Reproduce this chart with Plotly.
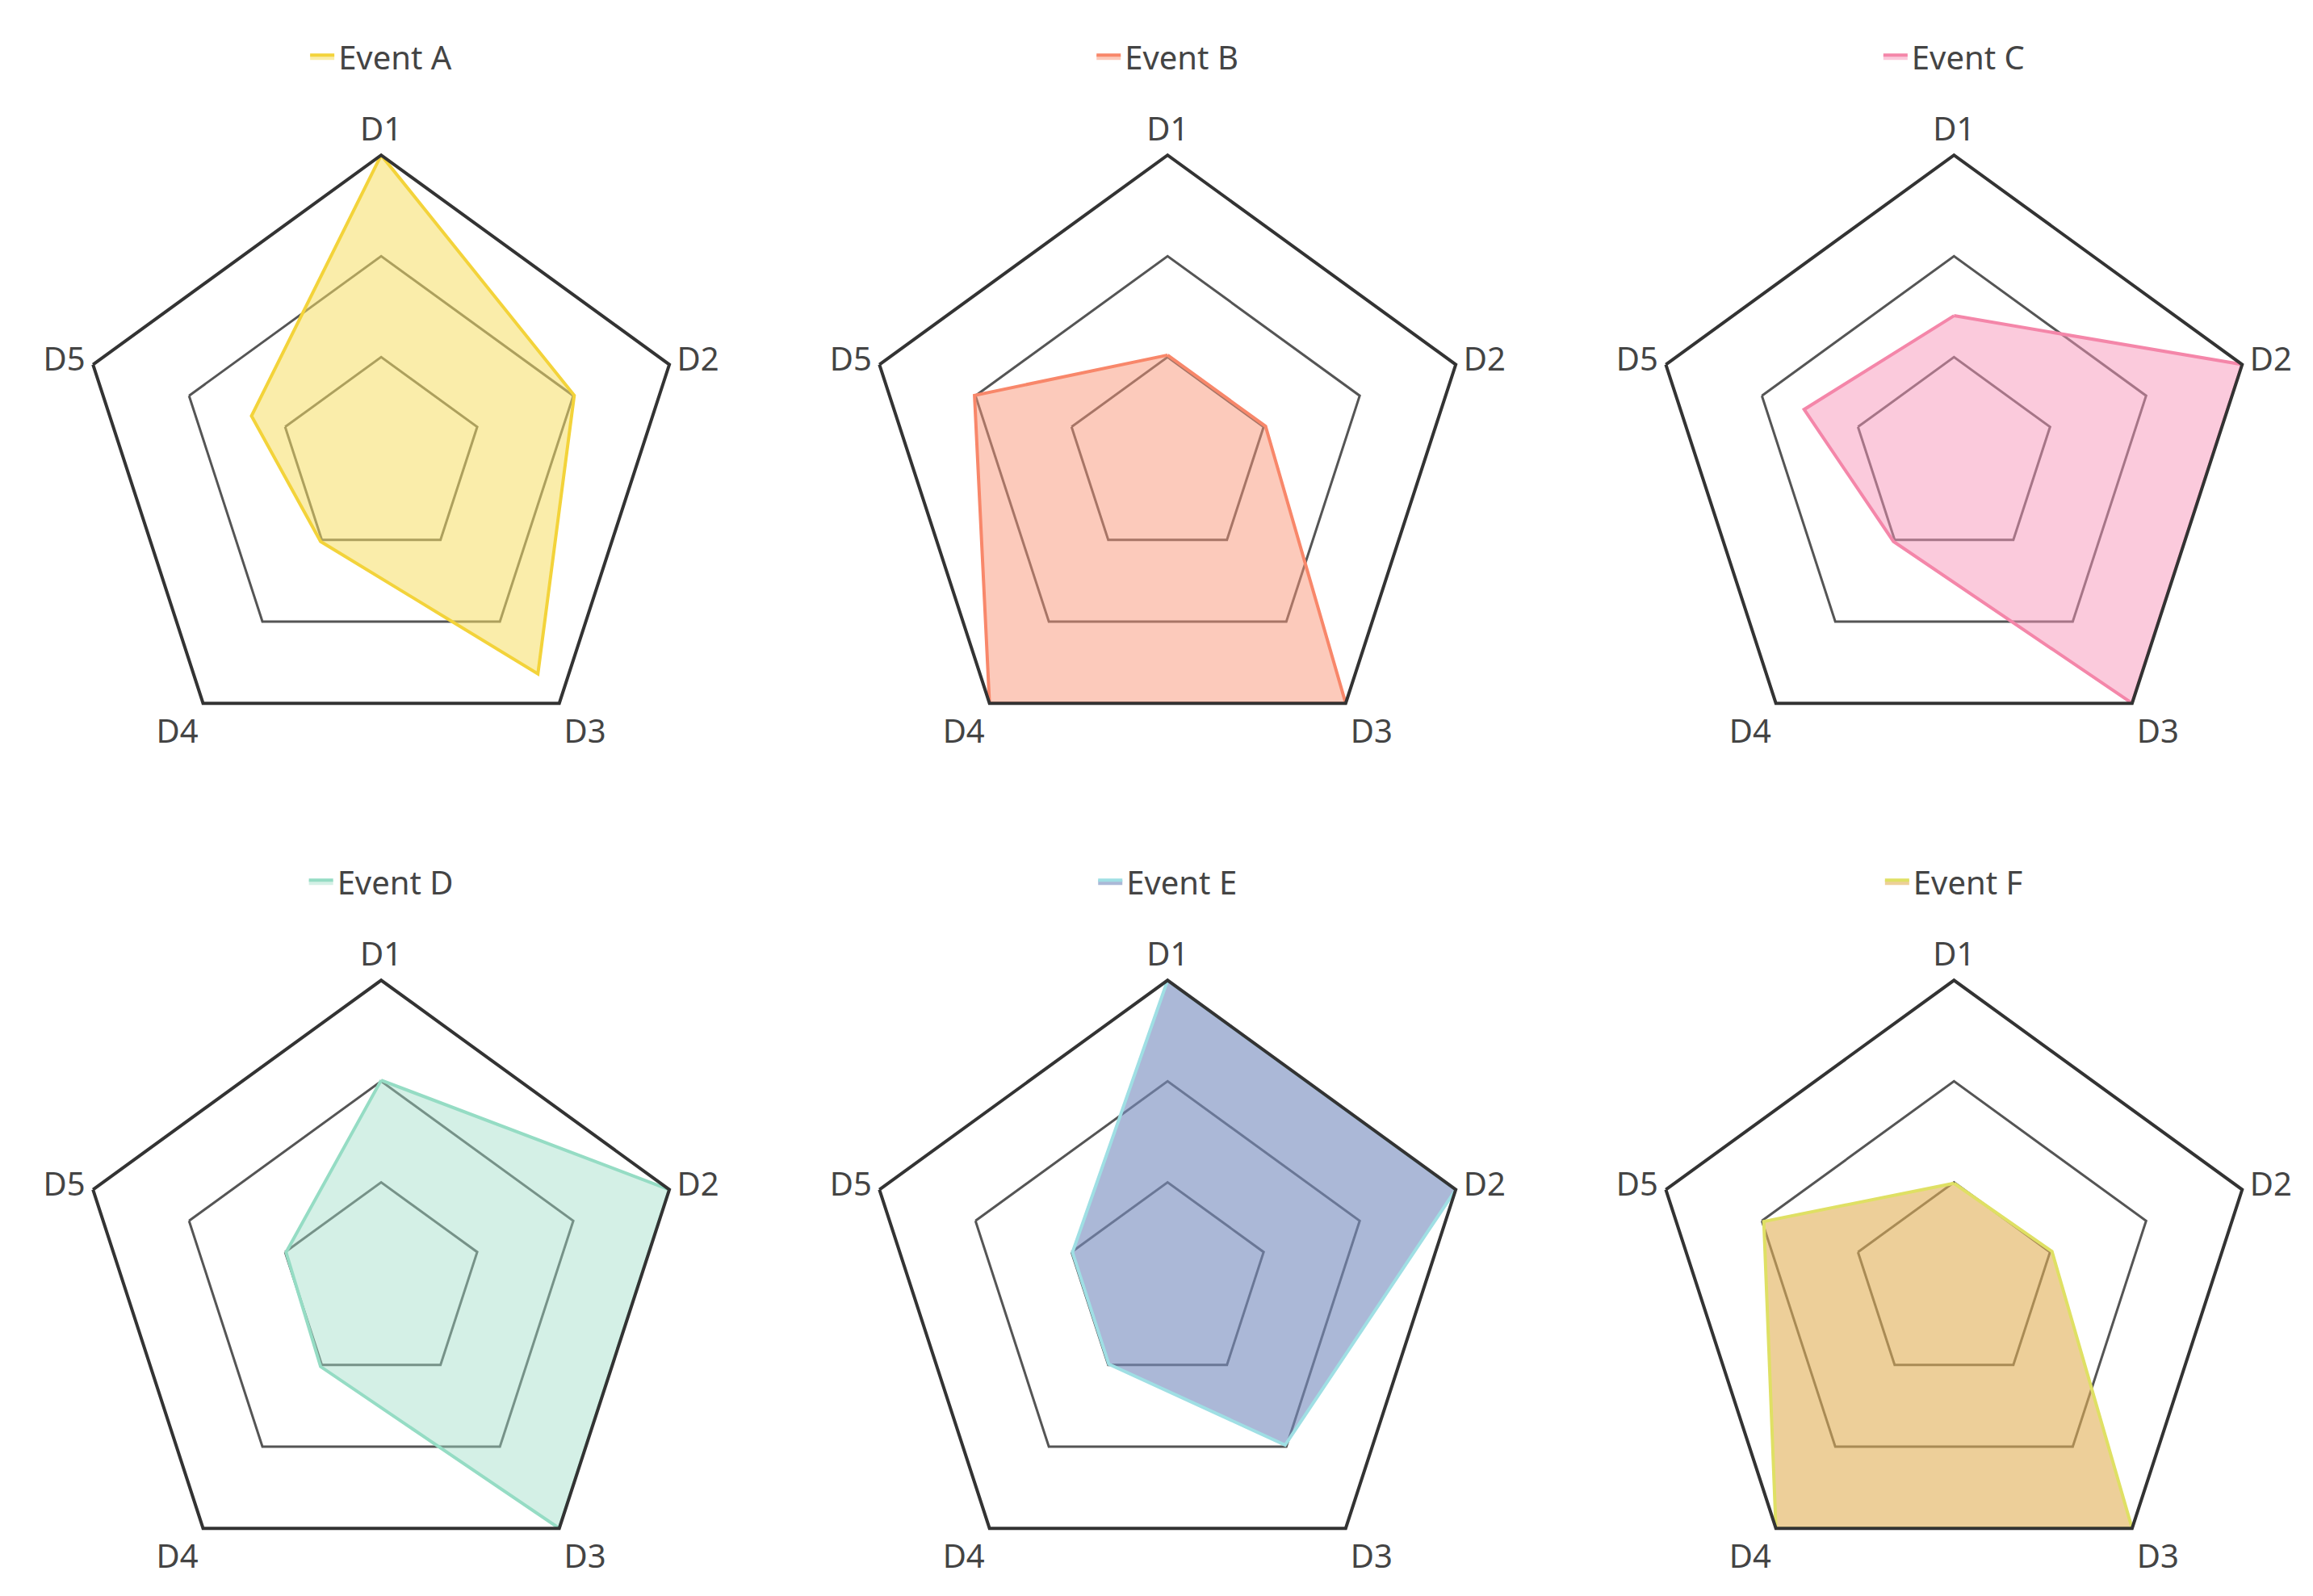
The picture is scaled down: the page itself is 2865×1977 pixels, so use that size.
import plotly.graph_objects as go

dims = ["D1", "D2", "D3", "D4", "D5"]
events = ["Event A", "Event B", "Event C", "Event D", "Event E", "Event F"]
vals_a = [100, 67, 88, 34, 45]
vals_b = [34, 34, 100, 100, 67]
vals_c = [47, 100, 100, 34, 52]
vals_d = [67, 100, 100, 34, 33]
vals_e = [100, 100, 66, 33, 33]
vals_f = [33, 34, 100, 100, 66]
values = [vals_a, vals_b, vals_c, vals_d, vals_e, vals_f]
line_colors = ["#f3d33a", "#f8876a", "#f486a9", "#95dcc4", "#9fdfe4", "#dfe064"]
fill_colors = ["rgba(246,222,100,0.55)", "rgba(250,150,120,0.5)", "rgba(248,150,185,0.5)",
               "rgba(160,222,200,0.45)", "rgba(120,140,190,0.62)", "rgba(225,175,85,0.6)"]

cx = [0.162, 0.502, 0.842]
cy = [0.717, 0.20]
hw, hh = 0.131, 0.19
leg_y = [0.985, 0.468]

fig = go.Figure()
for i, (name, v) in enumerate(zip(events, values)):
    r, c = divmod(i, 3)
    pid = "polar" if i == 0 else f"polar{i+1}"
    lid = "legend" if i == 0 else f"legend{i+1}"
    fig.add_trace(go.Scatterpolar(
        r=v + [v[0]], theta=dims + [dims[0]], fill="toself", mode="lines",
        line=dict(color=line_colors[i], width=4), fillcolor=fill_colors[i],
        name=name, subplot=pid, legend=lid, showlegend=True))
    fig.layout[pid] = dict(
        domain=dict(x=[cx[c]-hw, cx[c]+hw], y=[cy[r]-hh, cy[r]+hh]),
        gridshape="linear", bgcolor="white",
        radialaxis=dict(range=[0, 100], tickvals=[33.33, 66.67, 100], showticklabels=False,
                        showline=False, ticks="", gridcolor="#555", gridwidth=3),
        angularaxis=dict(rotation=90, direction="clockwise", showgrid=False,
                         linecolor="#333", linewidth=4, ticks="",
                         tickfont=dict(size=40, color="#444")))
    fig.layout[lid] = dict(x=cx[c], y=leg_y[r], xanchor="center", yanchor="top",
                           font=dict(size=40, color="#444"), bgcolor="rgba(0,0,0,0)")

fig.update_layout(width=2865, height=1977, paper_bgcolor="white",
                  font=dict(family="Noto Sans"), margin=dict(l=0, r=0, t=0, b=0))
fig.write_html("out.html")
